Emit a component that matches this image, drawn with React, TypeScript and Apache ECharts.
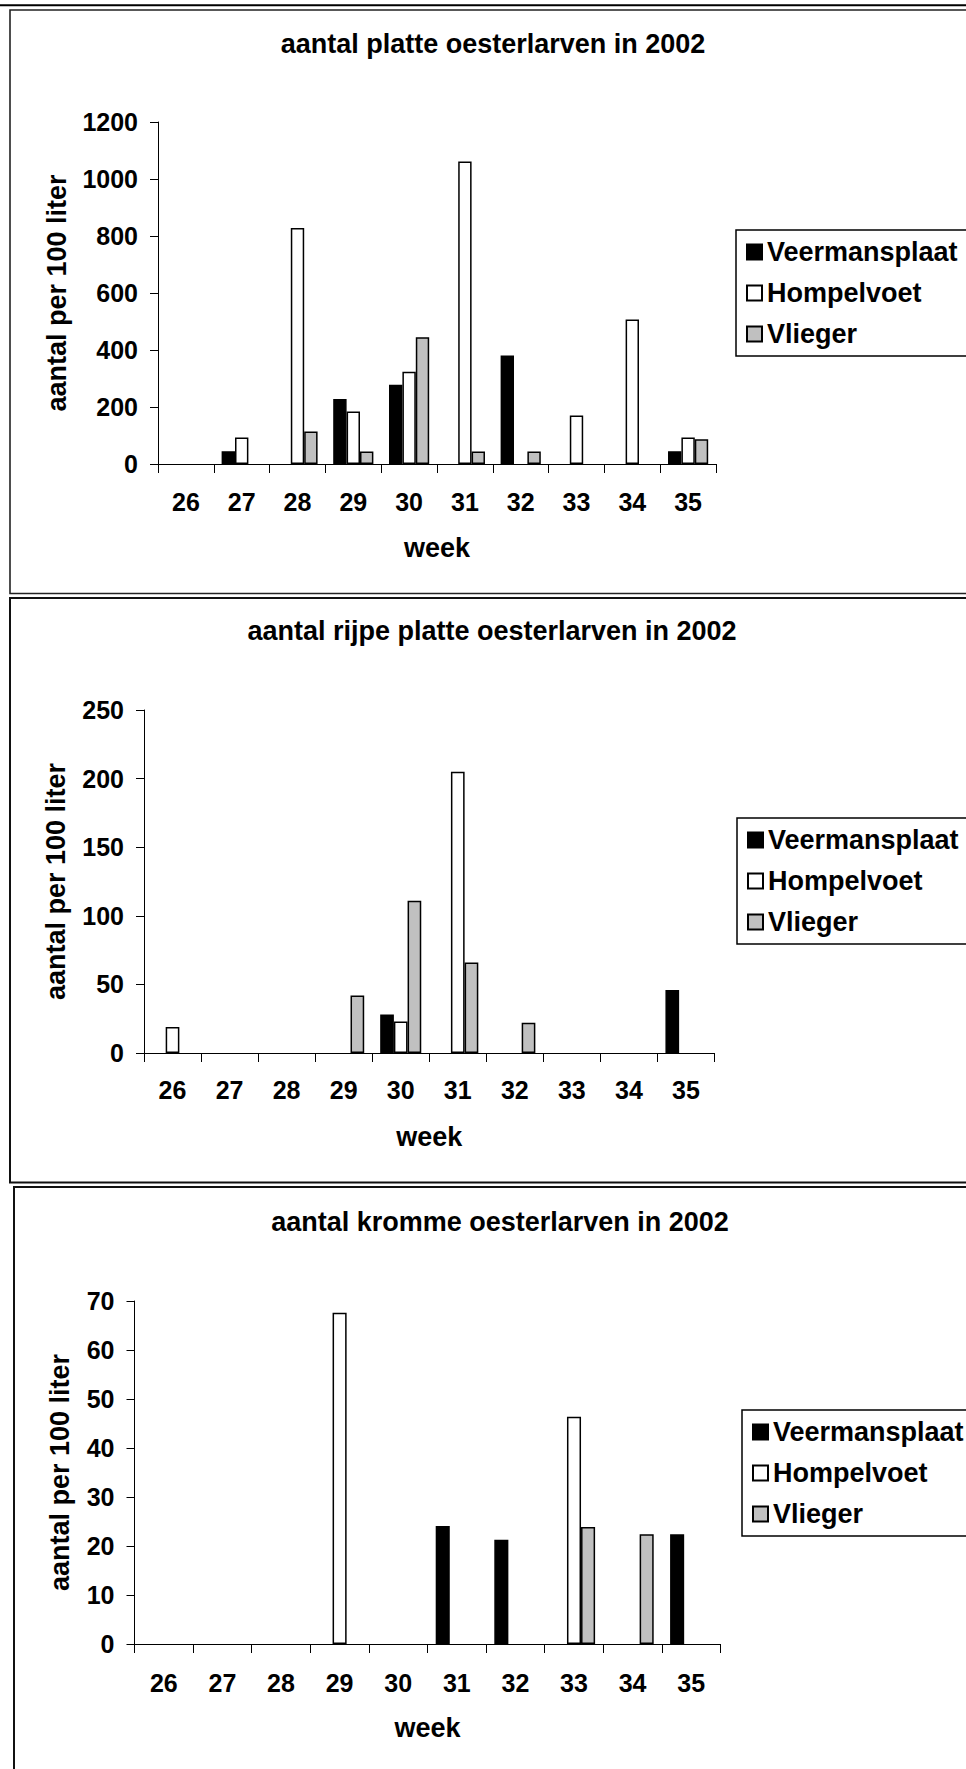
import React, { useEffect, useRef } from "react";
import * as echarts from "echarts";

// ---------- data ----------
const weeks = ["26", "27", "28", "29", "30", "31", "32", "33", "34", "35"];
const seriesNames = ["Veermansplaat", "Hompelvoet", "Vlieger"];
const chartTitles = [
  "aantal platte oesterlarven in 2002",
  "aantal rijpe platte oesterlarven in 2002",
  "aantal kromme oesterlarven in 2002",
];
const yAxisTitle = "aantal per 100 liter";
const xAxisTitle = "week";

// chart 1: aantal platte oesterlarven
const platteVeermansplaat = [0, 45, 0, 228, 278, 0, 381, 0, 0, 45];
const platteHompelvoet = [0, 93, 828, 184, 324, 1061, 0, 170, 507, 93];
const platteVlieger = [0, 0, 114, 44, 445, 44, 44, 0, 0, 87];

// chart 2: aantal rijpe platte oesterlarven
const rijpeVeermansplaat = [0, 0, 0, 0, 28, 0, 0, 0, 0, 46];
const rijpeHompelvoet = [19, 0, 0, 0, 23, 205, 0, 0, 0, 0];
const rijpeVlieger = [0, 0, 0, 42, 111, 66, 22, 0, 0, 0];

// chart 3: aantal kromme oesterlarven
const krommeVeermansplaat = [0, 0, 0, 0, 0, 24.1, 21.3, 0, 0, 22.4];
const krommeHompelvoet = [0, 0, 0, 67.6, 0, 0, 0, 46.4, 0, 0];
const krommeVlieger = [0, 0, 0, 0, 0, 0, 0, 23.9, 22.4, 0];

const yMaxima = [1200, 250, 70];
const yIntervals = [200, 50, 10];

// ---------- layout / style ----------
const FONT = "'Liberation Sans', Arial, sans-serif";
const barColors = ["#000000", "#ffffff", "#c0c0c0"];

const panels = [
  {
    data: [platteVeermansplaat, platteHompelvoet, platteVlieger],
    grid: { left: 158, top: 122, width: 558, height: 342 },
    labelMargin: 25,
    yNameGap: 88,
    titleX: 493,
    titleY: 44,
    legendLeft: 736,
    legendTop: 230,
  },
  {
    data: [rijpeVeermansplaat, rijpeHompelvoet, rijpeVlieger],
    grid: { left: 144, top: 710, width: 570.5, height: 343 },
    labelMargin: 24,
    yNameGap: 75,
    titleX: 492,
    titleY: 631,
    legendLeft: 737,
    legendTop: 818,
  },
  {
    data: [krommeVeermansplaat, krommeHompelvoet, krommeVlieger],
    grid: { left: 134.5, top: 1301, width: 586, height: 343 },
    labelMargin: 26,
    yNameGap: 61,
    titleX: 500,
    titleY: 1222,
    legendLeft: 742,
    legendTop: 1410,
  },
];

function buildOption() {
  const grid: any[] = [];
  const xAxis: any[] = [];
  const yAxis: any[] = [];
  const series: any[] = [];
  const legend: any[] = [];
  const graphic: any[] = [
    { type: "line", shape: { x1: 0, y1: 5.3, x2: 966, y2: 5.3 }, style: { stroke: "#000", lineWidth: 2 } },
    { type: "rect", shape: { x: 10, y: 10, width: 1000, height: 583.5 }, style: { fill: "none", stroke: "#222", lineWidth: 1.6 } },
    { type: "rect", shape: { x: 10, y: 598, width: 1000, height: 584.5 }, style: { fill: "none", stroke: "#111", lineWidth: 2 } },
    { type: "rect", shape: { x: 14, y: 1187, width: 1000, height: 700 }, style: { fill: "none", stroke: "#111", lineWidth: 2 } },
  ];

  panels.forEach((p, i) => {
    grid.push({ ...p.grid, containLabel: false });
    xAxis.push({
      type: "category",
      gridIndex: i,
      data: weeks,
      name: xAxisTitle,
      nameLocation: "middle",
      nameGap: 70,
      nameTextStyle: { fontFamily: FONT, fontWeight: "bold", fontSize: 27, color: "#000" },
      axisLine: { lineStyle: { color: "#000", width: 1 } },
      axisTick: { show: true, length: 9, lineStyle: { color: "#000", width: 1 } },
      axisLabel: { fontFamily: FONT, fontWeight: "bold", fontSize: 25, color: "#000", margin: p.labelMargin },
      splitLine: { show: false },
    });
    yAxis.push({
      type: "value",
      gridIndex: i,
      min: 0,
      max: yMaxima[i],
      interval: yIntervals[i],
      name: yAxisTitle,
      nameLocation: "middle",
      nameGap: p.yNameGap,
      nameTextStyle: { fontFamily: FONT, fontWeight: "bold", fontSize: 27, color: "#000" },
      axisLine: { show: true, lineStyle: { color: "#000", width: 1 } },
      axisTick: { show: true, length: 8, lineStyle: { color: "#000", width: 1 } },
      axisLabel: {
        fontFamily: FONT,
        fontWeight: "bold",
        fontSize: 25,
        color: "#000",
        margin: 20,
        formatter: (v: number) => String(v),
      },
      splitLine: { show: false },
    });
    p.data.forEach((arr, j) => {
      series.push({
        type: "bar",
        name: seriesNames[j],
        xAxisIndex: i,
        yAxisIndex: i,
        data: arr.map((v) => (v === 0 ? null : v)),
        barGap: "0%",
        barCategoryGap: "28%",
        silent: true,
        itemStyle: { color: barColors[j], borderColor: "#000", borderWidth: 1.5 },
      });
    });
    legend.push({
      orient: "vertical",
      left: p.legendLeft,
      top: p.legendTop,
      padding: [8.5, 10, 8.5, 10],
      itemWidth: 15,
      itemHeight: 15,
      itemGap: 14,
      icon: "rect",
      borderColor: "#000",
      borderWidth: 1.5,
      selectedMode: false,
      data: seriesNames,
      textStyle: { fontFamily: FONT, fontWeight: "bold", fontSize: 27, lineHeight: 27, color: "#000" },
    });
    graphic.push({
      type: "text",
      x: p.titleX,
      y: p.titleY,
      style: {
        text: chartTitles[i],
        fontFamily: FONT,
        fontWeight: "bold",
        fontSize: 27,
        fill: "#000",
        align: "center",
        verticalAlign: "middle",
      },
    });
  });

  return {
    animation: false,
    backgroundColor: "#ffffff",
    grid,
    xAxis,
    yAxis,
    series,
    legend,
    graphic,
  };
}

export default function App() {
  const ref = useRef<HTMLDivElement>(null);
  useEffect(() => {
    if (!ref.current) return;
    const chart = echarts.init(ref.current, undefined, { renderer: "svg" });
    chart.setOption(buildOption() as any);
    return () => chart.dispose();
  }, []);
  return (
    <div
      ref={ref}
      style={{ position: "absolute", left: 0, top: 0, width: 966, height: 1769, background: "#fff" }}
    />
  );
}
